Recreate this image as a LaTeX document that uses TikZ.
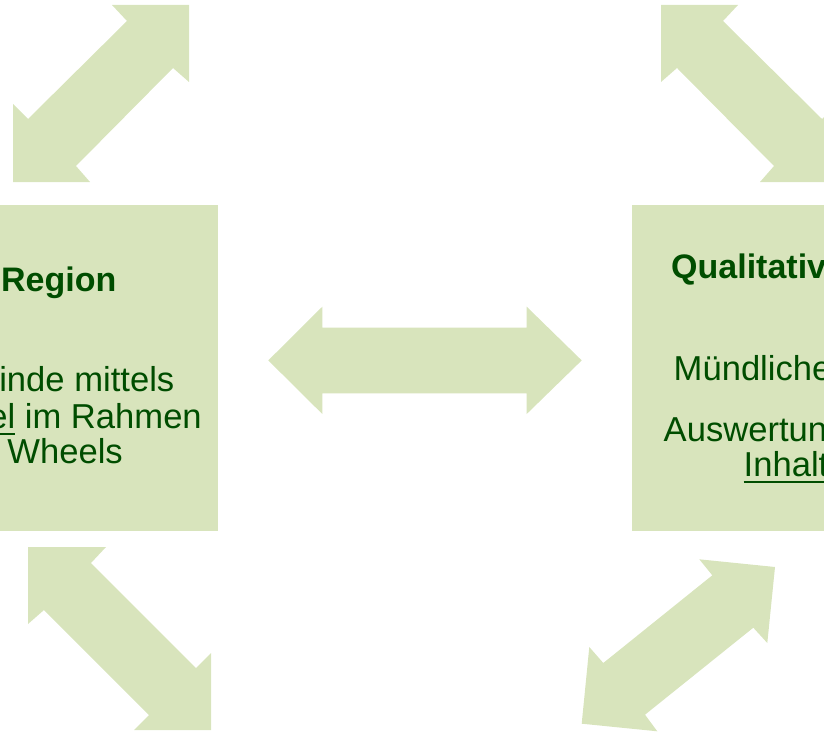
\documentclass[tikz,border=0pt]{standalone}
\usepackage{fontspec}
\setmainfont{Liberation Sans}
\definecolor{boxgreen}{HTML}{D8E4BC}
\definecolor{txtgreen}{RGB}{0,77,0}
\newcommand{\myul}[1]{\setbox0\hbox{#1}\rlap{\textcolor{txtgreen}{\rule[-6.5bp]{\wd0}{1.8bp}}}#1}
\tikzset{
  panel/.style={fill=boxgreen, draw=none, inner sep=0pt, anchor=north west},
  dblarrow/.style={fill=boxgreen, draw=none},
  txt/.style={inner sep=0pt, text=txtgreen, font=\fontsize{34.6bp}{36bp}\selectfont},
  ttl/.style={txt, font=\fontsize{34bp}{36bp}\selectfont\bfseries}
}
\begin{document}
\begin{tikzpicture}[x=1bp,y=-1bp]
\useasboundingbox (0,0) rectangle (824,732);
\clip (0,0) rectangle (824,732);
% boxes
\node[panel, minimum width=368bp, minimum height=326bp] (leftbox) at (-150,205) {};
\node[panel, minimum width=368bp, minimum height=326bp] (rightbox) at (632,205) {};
% double arrows
\fill[dblarrow] (112,5) -- (189,5) -- (189,82) -- (173,68) -- (76,166) -- (90,182) -- (13,182) -- (13,104) -- (28,119) -- (127,21) -- cycle;
\fill[dblarrow] (738,5) -- (661,5) -- (661,82) -- (677,68) -- (774,166) -- (760,182) -- (837,182) -- (837,104) -- (822,119) -- (723,21) -- cycle;
\fill[dblarrow] (28,547) -- (106,547) -- (91,563) -- (196,668) -- (211,653) -- (211,730) -- (134,730) -- (149,715) -- (44,610) -- (28,624) -- cycle;
\fill[dblarrow] (699.3,559.3) -- (775,567) -- (767.3,643) -- (753.3,627.7) -- (645,714.7) -- (657.3,731.3) -- (581.7,723.7) -- (589.3,647) -- (603.3,663) -- (712.3,575.3) -- cycle;
\fill[dblarrow] (268.3,360.4) -- (322.3,306.7) -- (322.3,327.7) -- (526.7,327.7) -- (526.7,306.7) -- (581.7,360.4) -- (526.7,414) -- (526.7,393.3) -- (322.3,393.3) -- (322.3,414) -- cycle;
% left box text
\node[ttl, anchor=base east] (lt) at (116.5,291) {Region};
\node[txt, anchor=base east] (l1) at (174.5,391.7) {inde mittels};
\node[txt, anchor=base east] (l2) at (202,428.3) {\myul{el} im Rahmen};
\node[txt, anchor=base east] (l3) at (123,463.3) {Wheels};
% right box text
\node[ttl, anchor=base west] (rt) at (671,278.3) {Qualitativ};
\node[txt, anchor=base west] (r1) at (673.5,380) {Mündliche};
\node[txt, anchor=base west] (r2) at (663.5,441.7) {Auswertun};
\node[txt, anchor=base west] (r3) at (743.5,476.7) {\myul{Inhalt}};
\end{tikzpicture}
\end{document}
